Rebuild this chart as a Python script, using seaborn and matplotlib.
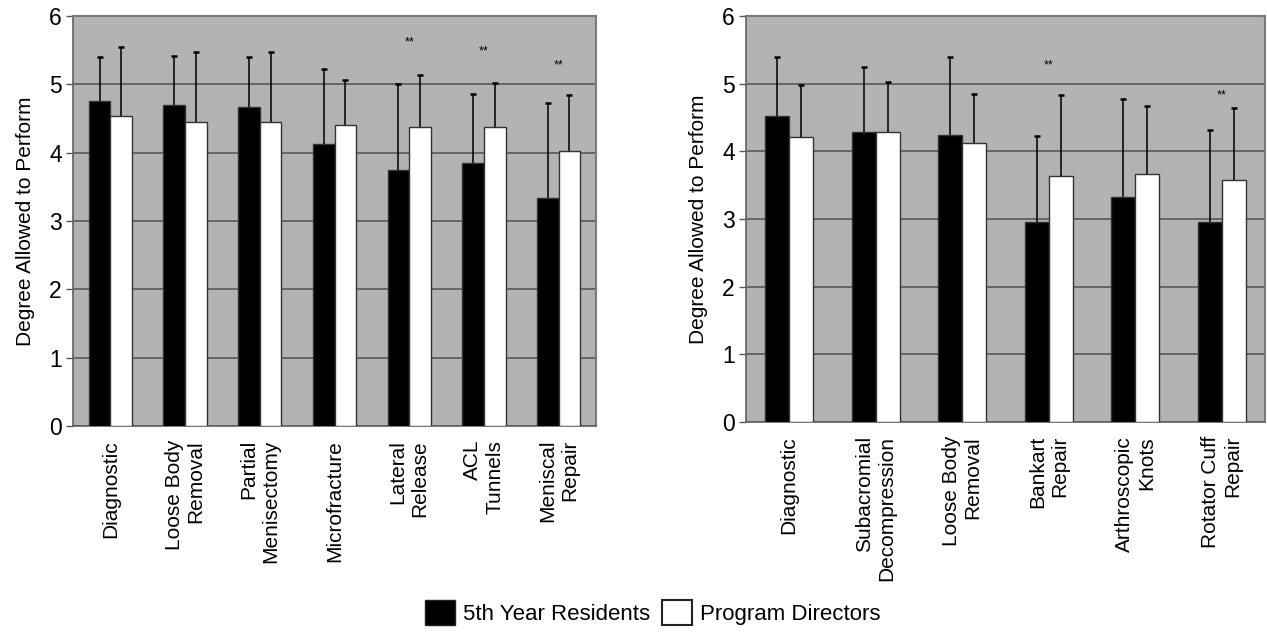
import numpy as np
import pandas as pd
import matplotlib
matplotlib.use("Agg")
import matplotlib.pyplot as plt
from matplotlib.patches import Patch
import seaborn as sns

# ---------------- data ----------------
knee_labels = ["Diagnostic", "Loose Body\nRemoval", "Partial\nMenisectomy",
               "Microfracture", "Lateral\nRelease", "ACL\nTunnels", "Meniscal\nRepair"]
knee_res = [4.75, 4.70, 4.67, 4.12, 3.75, 3.85, 3.34]
knee_pd = [4.53, 4.45, 4.45, 4.41, 4.38, 4.38, 4.03]
knee_res_sd = [0.65, 0.72, 0.73, 1.11, 1.25, 1.01, 1.39]
knee_pd_sd = [1.02, 1.02, 1.02, 0.65, 0.76, 0.64, 0.81]
knee_sig_idx = [4, 5, 6]
knee_sig_y = [5.62, 5.48, 5.28]

shoulder_labels = ["Diagnostic", "Subacromial\nDecompression", "Loose Body\nRemoval",
                   "Bankart\nRepair", "Arthroscopic\nKnots", "Rotator Cuff\nRepair"]
shoulder_res = [4.52, 4.29, 4.24, 2.95, 3.33, 2.95]
shoulder_pd = [4.21, 4.29, 4.12, 3.63, 3.67, 3.57]
shoulder_res_sd = [0.88, 0.96, 1.16, 1.27, 1.45, 1.36]
shoulder_pd_sd = [0.77, 0.74, 0.73, 1.20, 1.00, 1.07]
shoulder_sig_idx = [3, 5]
shoulder_sig_y = [5.27, 4.83]

groups = ["5th Year Residents", "Program Directors"]
y_ticks = [0, 1, 2, 3, 4, 5, 6]
y_label = "Degree Allowed to Perform"

# ---------------- style ----------------
plt.rcParams["font.family"] = ["Liberation Sans", "DejaVu Sans"]
BG = "#b3b3b3"
GRID = "#505050"

fig = plt.figure(figsize=(12.67, 6.39), dpi=100)
ax1 = fig.add_axes([73 / 1267, 1 - 426 / 639, 523 / 1267, 410 / 639])
ax2 = fig.add_axes([746 / 1267, 1 - 422 / 639, 519 / 1267, 406 / 639])


def panel(ax, labels, res, pd_, res_sd, pd_sd, sig_idx, sig_y, width):
    df = pd.DataFrame({
        "cat": labels * 2,
        "group": [groups[0]] * len(labels) + [groups[1]] * len(labels),
        "val": list(res) + list(pd_),
    })
    sns.barplot(data=df, x="cat", y="val", hue="group", order=labels,
                hue_order=groups, palette=["black", "white"], width=width,
                gap=0, errorbar=None, legend=False, ax=ax, zorder=3,
                edgecolor="#333333", linewidth=1.0, saturation=1)
    for cont, vals, sds in zip(ax.containers, [res, pd_], [res_sd, pd_sd]):
        xs = np.array([b.get_x() + b.get_width() / 2 for b in cont])
        tops = np.array(vals) + np.array(sds)
        ax.vlines(xs, vals, tops, colors="black", linewidth=1.1, zorder=4)
        ax.plot(xs, tops, linestyle="none", marker="_", markersize=5,
                markeredgewidth=1.8, color="black", zorder=4)
    ticks = ax.get_xticks()
    for i, yy in zip(sig_idx, sig_y):
        ax.text(ticks[i], yy, "**", ha="center", va="center", fontsize=9,
                zorder=5)
    ax.set_facecolor(BG)
    ax.set_ylim(0, 6)
    ax.set_xlim(-0.5, len(labels) - 0.5)
    ax.set_yticks(y_ticks)
    ax.yaxis.grid(True, color=GRID, linewidth=1.1, zorder=1)
    ax.set_axisbelow(True)
    ax.set_xlabel("")
    ax.set_ylabel(y_label, fontsize=15, labelpad=10)
    ax.set_xticks(ticks)
    ax.set_xticklabels(labels, rotation=90, fontsize=15, multialignment="right",
                       va="top", ha="center")
    ax.tick_params(axis="x", length=0, pad=10)
    ax.tick_params(axis="y", length=5, width=1, labelsize=16.5, pad=3,
                   color="#555555")
    for side in ["left", "bottom"]:
        ax.spines[side].set_color("#606060")
        ax.spines[side].set_linewidth(1.2)
    for side in ["top", "right"]:
        ax.spines[side].set_color("#7a7a7a")
        ax.spines[side].set_linewidth(1.5)


panel(ax1, knee_labels, knee_res, knee_pd, knee_res_sd, knee_pd_sd,
      knee_sig_idx, knee_sig_y, 0.58)
panel(ax2, shoulder_labels, shoulder_res, shoulder_pd, shoulder_res_sd,
      shoulder_pd_sd, shoulder_sig_idx, shoulder_sig_y, 0.555)

handles = [Patch(facecolor="black", edgecolor="#222222"),
           Patch(facecolor="white", edgecolor="#222222", linewidth=1.5)]
fig.legend(handles, groups, loc="center", bbox_to_anchor=(0.515, 0.042),
           ncol=2, frameon=False, fontsize=16, handlelength=1.35,
           handleheight=1.35, handletextpad=0.36, columnspacing=0.55)

fig.savefig("out.png", dpi=100)
